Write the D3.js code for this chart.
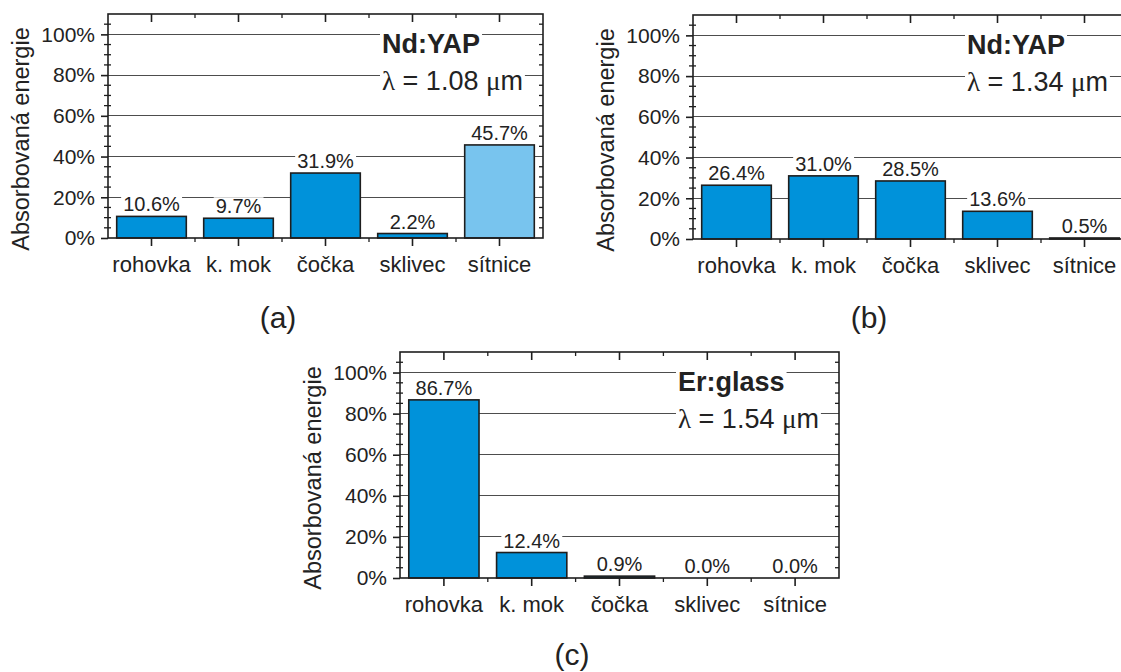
<!DOCTYPE html>
<html>
<head>
<meta charset="utf-8">
<script src="https://cdn.jsdelivr.net/npm/d3@7"></script>
<style>
  body { margin: 0; background: #fff; }
  svg { display: block; }
  text { font-family: "Liberation Sans", Arial, sans-serif; fill: #222; }
</style>
</head>
<body>
<svg id="chart" width="1121" height="672"></svg>
<script>
// Absorbed energy per eye tissue for three laser sources
const categories = ["rohovka", "k. mok", "čočka", "sklivec", "sítnice"];
const valuesA = [10.6, 9.7, 31.9, 2.2, 45.7];
const valuesB = [26.4, 31.0, 28.5, 13.6, 0.5];
const valuesC = [86.7, 12.4, 0.9, 0.0, 0.0];
const yTicks = [0, 20, 40, 60, 80, 100];
const yMinorStep = 5;
const yMax = 110;
const materials = ["Nd:YAP", "Nd:YAP", "Er:glass"];
const wavelengths = ["1.08", "1.34", "1.54"];
const captions = ["(a)", "(b)", "(c)"];
const highlighted = ["sítnice", null, null];
const yTitle = "Absorbovaná energie";

const barColor = "#0092da";
const barHighlight = "#78c4ee";
const ink = "#1e1e1e";

const panels = [
  { values: valuesA, left: 108, top: 14,  width: 435, height: 224, capX: 278, capY: 328 },
  { values: valuesB, left: 693, top: 15,  width: 435, height: 224, capX: 869, capY: 328 },
  { values: valuesC, left: 400, top: 352, width: 439, height: 226, capX: 572, capY: 665 }
].map((p, i) => ({ ...p, material: materials[i], wl: wavelengths[i], caption: captions[i], hi: highlighted[i] }));

const svg = d3.select("#chart");
const fmt = d3.format(".1f");

function drawPanel(p) {
  const g = svg.append("g").attr("transform", `translate(${p.left},${p.top})`);
  const x = d3.scaleBand().domain(categories).range([0, p.width])
    .paddingInner(0.2).paddingOuter(0.1);
  const y = d3.scaleLinear().domain([0, yMax]).range([p.height, 0]);
  const data = categories.map((c, i) => ({ c, v: p.values[i] }));
  const cx = d => x(d) + x.bandwidth() / 2;

  // horizontal grid
  g.append("g").selectAll("line").data(yTicks.filter(d => d > 0)).join("line")
    .attr("x1", 0).attr("x2", p.width)
    .attr("y1", d => y(d)).attr("y2", d => y(d))
    .attr("stroke", "#4d4d4d").attr("stroke-width", 1)
    .attr("shape-rendering", "crispEdges");

  // value labels (with white backing that interrupts the grid)
  const labels = g.append("g").selectAll("g").data(data).join("g");
  labels.append("text")
    .attr("x", d => cx(d.c)).attr("y", d => y(d.v) - 5)
    .attr("text-anchor", "middle").attr("font-size", 20)
    .text(d => fmt(d.v) + "%");
  labels.each(function () {
    const t = d3.select(this).select("text");
    const b = t.node().getBBox();
    d3.select(this).insert("rect", "text")
      .attr("x", b.x - 2).attr("y", b.y + 2).attr("width", b.width + 4).attr("height", b.height - 3)
      .attr("fill", "#fff");
  });

  // material / wavelength note
  const note = g.append("g").attr("transform", `translate(${p.width - 161},0)`);
  const n1 = note.append("text").attr("y", 39).attr("font-size", 27).attr("font-weight", "bold")
    .text(p.material);
  const n2 = note.append("text").attr("y", 76).attr("font-size", 27);
  n2.append("tspan").attr("font-family", "'Liberation Serif', serif").text("λ");
  n2.append("tspan").text(` = ${p.wl} `);
  n2.append("tspan").attr("font-family", "'Liberation Serif', serif").text("μ");
  n2.append("tspan").text("m");
  [n1, n2].forEach(t => {
    const b = t.node().getBBox();
    note.insert("rect", "text")
      .attr("x", b.x - 2).attr("y", b.y + 3).attr("width", b.width + 4).attr("height", b.height - 5)
      .attr("fill", "#fff");
  });

  // bars
  g.append("g").selectAll("rect").data(data).join("rect")
    .attr("x", d => x(d.c)).attr("width", x.bandwidth())
    .attr("y", d => y(d.v)).attr("height", d => y(0) - y(d.v))
    .attr("fill", d => d.c === p.hi ? barHighlight : barColor)
    .attr("stroke", ink).attr("stroke-width", 1.6);

  // frame
  g.append("rect").attr("x", 0).attr("y", 0).attr("width", p.width).attr("height", p.height)
    .attr("fill", "none").attr("stroke", ink).attr("stroke-width", 1.6);

  // left axis with percentage labels
  const yAxis = g.append("g")
    .call(d3.axisLeft(y).tickValues(yTicks).tickFormat(d => d + "%").tickSize(7).tickPadding(6));
  yAxis.select(".domain").remove();
  yAxis.selectAll("line").attr("stroke", ink).attr("stroke-width", 1.6);
  yAxis.selectAll("text").attr("font-size", 21).attr("font-family", null).attr("fill", "#222");

  const minor = d3.range(0, yMax, yMinorStep).filter(d => !yTicks.includes(d));
  g.append("g").selectAll("line").data(minor).join("line")
    .attr("x1", -4).attr("x2", 3).attr("y1", d => y(d)).attr("y2", d => y(d))
    .attr("stroke", ink).attr("stroke-width", 1.3);
  g.append("g").selectAll("line").data(minor).join("line")
    .attr("x1", p.width - 4).attr("x2", p.width).attr("y1", d => y(d)).attr("y2", d => y(d))
    .attr("stroke", ink).attr("stroke-width", 1.3);

  // bottom axis with tissue names
  const xAxis = g.append("g").attr("transform", `translate(0,${p.height})`)
    .call(d3.axisBottom(x).tickSize(8).tickPadding(8));
  xAxis.select(".domain").remove();
  xAxis.selectAll("line").attr("stroke", ink).attr("stroke-width", 1.6);
  xAxis.selectAll("text").attr("font-size", 22).attr("font-family", null).attr("fill", "#222")
    .attr("dy", "0.8em");

  // top ticks and category boundary ticks
  g.append("g").selectAll("line").data(categories).join("line")
    .attr("x1", d => cx(d)).attr("x2", d => cx(d)).attr("y1", 0).attr("y2", 8)
    .attr("stroke", ink).attr("stroke-width", 1.6);
  const bounds = d3.range(1, categories.length).map(i => i * x.step());
  g.append("g").selectAll("line").data(bounds).join("line")
    .attr("x1", d => d).attr("x2", d => d).attr("y1", 0).attr("y2", 4)
    .attr("stroke", ink).attr("stroke-width", 1.3);
  g.append("g").selectAll("line").data(bounds).join("line")
    .attr("x1", d => d).attr("x2", d => d).attr("y1", p.height).attr("y2", p.height + 4)
    .attr("stroke", ink).attr("stroke-width", 1.3);

  // y title
  g.append("text")
    .attr("transform", `translate(-87,${p.height / 2 + 13}) rotate(-90)`)
    .attr("text-anchor", "middle").attr("dy", "0.35em").attr("font-size", 23.5)
    .text(yTitle);

  // caption
  svg.append("text").attr("x", p.capX).attr("y", p.capY)
    .attr("text-anchor", "middle").attr("font-size", 30)
    .attr("font-family", "'Liberation Serif', serif").attr("fill", "#111")
    .text(p.caption);
}

panels.forEach(drawPanel);
</script>
</body>
</html>
